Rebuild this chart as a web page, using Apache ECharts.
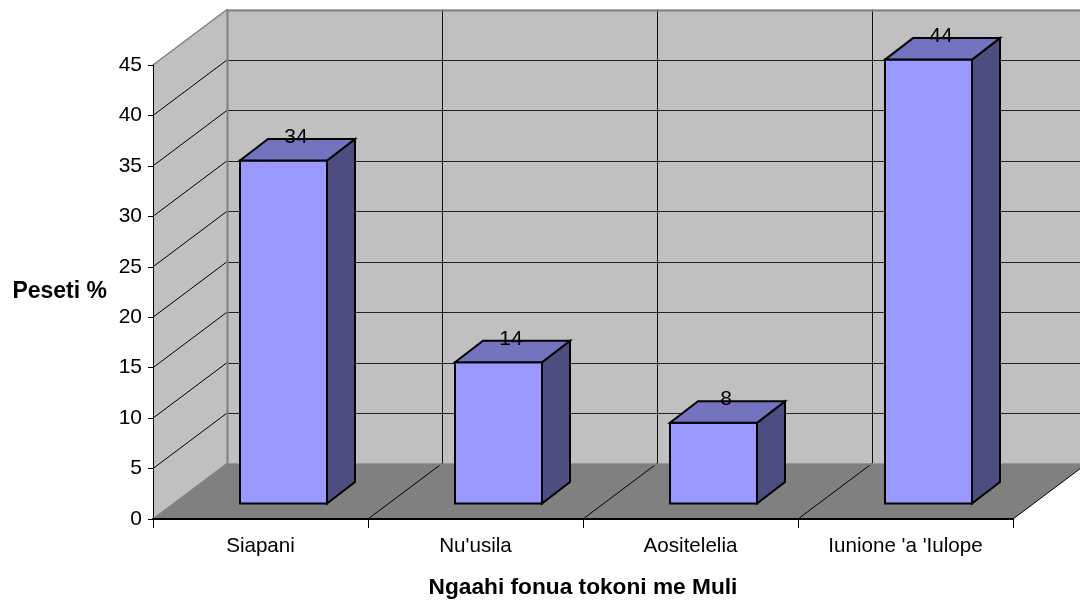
<!DOCTYPE html>
<html>
<head>
<meta charset="utf-8">
<title>Ngaahi fonua tokoni me Muli</title>
<style>
    html, body { margin: 0; padding: 0; background: #fff; }
    #chart { width: 1080px; height: 601px; }
</style>
<script src="https://cdn.jsdelivr.net/npm/echarts@6/dist/echarts.min.js"></script>
</head>
<body>
<div id="chart"></div>
<script>
const categories = ['Siapani', "Nu'usila", 'Aositelelia', "Iunione 'a 'Iulope"];
const peseti = [34, 14, 8, 44];
const yTicks = [0, 5, 10, 15, 20, 25, 30, 35, 40, 45];

// perspective offsets of the fake 3D box
const depthX = 74, depthY = -55.5;
const barOffX = 23, barOffY = -15.5;
const barDepthX = 28, barDepthY = -21.5;
const barWidth = 87;

const chart = echarts.init(document.getElementById('chart'), null, { renderer: 'canvas' });

function poly(points, fill, stroke, lineWidth) {
    return {
        type: 'polygon',
        shape: { points: points },
        style: { fill: fill, stroke: stroke || 'none', lineWidth: lineWidth || 0 }
    };
}

function line(a, b, color, width) {
    // snap straight lines to the pixel grid so they stay crisp
    let s = [a[0], a[1], b[0], b[1]];
    if (a[0] === b[0]) s[0] = s[2] = Math.round(a[0]) + 0.5;
    if (a[1] === b[1]) s[1] = s[3] = Math.round(a[1]) + 0.5;
    return {
        type: 'line',
        shape: { x1: s[0], y1: s[1], x2: s[2], y2: s[3] },
        style: { stroke: color, lineWidth: width, fill: 'none' }
    };
}

function back(p) {
    return [p[0] + depthX, p[1] + depthY];
}

// walls, floor and gridlines, all hung on the axes
function renderFrame(params, api) {
    const band = api.size([1, 0])[0];
    const first = api.coord([0, 0]);
    const o = [first[0] - band / 2, first[1]];
    const top = [o[0], api.coord([0, 45])[1]];
    const r = [o[0] + band * categories.length, o[1]];
    const rTop = [r[0], top[1]];
    const kids = [
        poly([o, back(o), back(top), top], '#c0c0c0'),
        poly([back(o), back(r), back(rTop), back(top)], '#c0c0c0'),
        poly([o, r, back(r), back(o)], '#808080')
    ];
    yTicks.forEach(t => {
        if (t === 0 || t === 45) return;
        const y = api.coord([0, t])[1];
        const a = [o[0], y], b = [r[0], y];
        kids.push(line(a, back(a), '#000', 1));
        kids.push(line(back(a), back(b), '#222', 1));
    });
    for (let i = 1; i < categories.length; i++) {
        const a = [o[0] + band * i, o[1]];
        kids.push(line(a, back(a), '#000', 1));
        kids.push(line(back(a), back([a[0], top[1]]), '#111', 1));
    }
    kids.push(line(top, back(top), '#808080', 1.5));
    kids.push(line(back(top), back(rTop), '#808080', 2));
    kids.push(line(back(o), back(top), '#808080', 2));
    kids.push(line(o, back(o), '#808080', 1.5));
    kids.push(line(back(o), back(r), '#808080', 2));
    kids.push(line(r, back(r), '#000', 1));
    return { type: 'group', children: kids };
}

function renderBar(params, api) {
    const idx = api.value(0);
    const val = api.value(1);
    const tp = api.coord([idx, val]);
    const bt = api.coord([idx, 0]);
    const xl = tp[0] + barOffX - barWidth / 2;
    const xr = xl + barWidth;
    const yt = tp[1] + barOffY;
    const yb = bt[1] + barOffY;
    const dx = barDepthX, dy = barDepthY;
    return {
        type: 'group',
        children: [
            poly([[xl, yt], [xr, yt], [xr, yb], [xl, yb]], '#9999ff', '#000', 2),
            poly([[xr, yt], [xr + dx, yt + dy], [xr + dx, yb + dy], [xr, yb]], '#4d4d80', '#000', 2),
            poly([[xl, yt], [xl + dx, yt + dy], [xr + dx, yt + dy], [xr, yt]], '#7373bf', '#000', 2),
            {
                type: 'text',
                style: {
                    text: String(val),
                    x: (xl + xr) / 2 + 12.5,
                    y: yt + dy - 2,
                    align: 'center',
                    verticalAlign: 'middle',
                    fill: '#000',
                    font: '21px "Liberation Sans"'
                }
            }
        ]
    };
}

const option = {
    animation: false,
    backgroundColor: '#fff',
    textStyle: { fontFamily: 'Liberation Sans' },
    grid: { left: 153, right: 67, top: 65, bottom: 82, outerBoundsMode: 'none' },
    xAxis: {
        type: 'category',
        z: 5,
        data: categories,
        name: 'Ngaahi fonua tokoni me Muli',
        nameLocation: 'middle',
        nameGap: 57,
        nameTextStyle: { fontSize: 22.7, fontWeight: 'bold', color: '#000' },
        axisLine: { lineStyle: { color: '#000', width: 2 } },
        axisTick: { show: true, length: 9, lineStyle: { color: '#000' } },
        axisLabel: { fontSize: 20.6, color: '#000', margin: 17 },
        splitLine: { show: false }
    },
    yAxis: {
        type: 'value',
        z: 5,
        min: 0,
        max: 45,
        interval: 5,
        name: 'Peseti %',
        nameLocation: 'middle',
        nameRotate: 0,
        nameGap: 46,
        nameTextStyle: { fontSize: 23, fontWeight: 'bold', color: '#000', align: 'right' },
        axisLine: { show: true, lineStyle: { color: '#000', width: 1 } },
        axisTick: { show: true, length: 5, lineStyle: { color: '#000' } },
        axisLabel: { fontSize: 21, color: '#000', margin: 11, padding: [0, 0, 4, 0] },
        splitLine: { show: false }
    },
    series: [
        { type: 'custom', renderItem: renderFrame, data: [0], z: 1, silent: true, encode: { x: 0, y: 0 } },
        {
            type: 'custom',
            renderItem: renderBar,
            data: peseti.map((v, i) => [i, v]),
            encode: { x: 0, y: 1 },
            z: 3
        }
    ]
};

chart.setOption(option);
</script>
</body>
</html>
